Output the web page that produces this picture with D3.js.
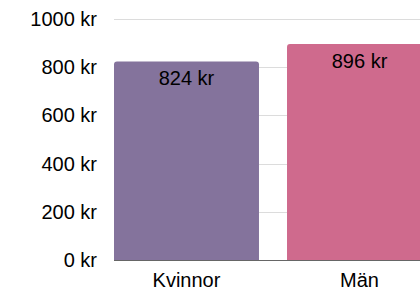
<!DOCTYPE html>
<html>
<head>
<meta charset="utf-8">
<script src="https://cdn.jsdelivr.net/npm/d3@7"></script>
<style>
  body { margin: 0; background: #fff; }
  text { font-family: "Liberation Sans", Arial, sans-serif; }
</style>
</head>
<body>
<svg id="chart"></svg>
<script>
var width = 420;
var height = 288;

// data
var categories = ["Kvinnor", "Män"];
var values = [824, 896];
var barColors = ["#84739c", "#cf6a8d"];
var yTicks = [0, 200, 400, 600, 800, 1000];

var svg = d3.select("#chart")
    .attr("width", width)
    .attr("height", height);

var x = d3.scaleBand()
    .domain(categories)
    .range([114, 432])
    .paddingInner(0.162)
    .paddingOuter(0);

var y = d3.scaleLinear()
    .domain([0, 1000])
    .range([260, 19]);

// grid lines
svg.selectAll(".grid")
    .data(yTicks.filter(function (d) { return d > 0; }))
    .enter().append("line")
    .attr("class", "grid")
    .attr("x1", 114)
    .attr("x2", width)
    .attr("y1", function (d) { return Math.round(y(d)) + 0.5; })
    .attr("y2", function (d) { return Math.round(y(d)) + 0.5; })
    .attr("stroke", "#dcdcdc")
    .attr("stroke-width", 1);

// base line
svg.append("line")
    .attr("x1", 114)
    .attr("x2", width)
    .attr("y1", Math.round(y(0)) + 0.5)
    .attr("y2", Math.round(y(0)) + 0.5)
    .attr("stroke", "#666")
    .attr("stroke-width", 1);

// y labels
svg.selectAll(".ylab")
    .data(yTicks)
    .enter().append("text")
    .attr("class", "ylab")
    .attr("x", 97)
    .attr("y", function (d) { return y(d); })
    .attr("dy", "0.35em")
    .attr("text-anchor", "end")
    .attr("font-size", "20px")
    .attr("fill", "#000")
    .text(function (d) { return d + " kr"; });

// bars with rounded top corners
var r = 3;
svg.selectAll(".bar")
    .data(values)
    .enter().append("path")
    .attr("class", "bar")
    .attr("fill", function (d, i) { return barColors[i]; })
    .attr("d", function (d, i) {
        var x0 = x(categories[i]), x1 = x0 + x.bandwidth();
        var y0 = y(d), y1 = y(0);
        return "M" + x0 + "," + y1 +
            "V" + (y0 + r) +
            "Q" + x0 + "," + y0 + " " + (x0 + r) + "," + y0 +
            "H" + (x1 - r) +
            "Q" + x1 + "," + y0 + " " + x1 + "," + (y0 + r) +
            "V" + y1 + "Z";
    });

// value labels
svg.selectAll(".vlab")
    .data(values)
    .enter().append("text")
    .attr("class", "vlab")
    .attr("x", function (d, i) { return x(categories[i]) + x.bandwidth() / 2; })
    .attr("y", function (d) { return y(d) + 16.5; })
    .attr("dy", "0.35em")
    .attr("text-anchor", "middle")
    .attr("font-size", "20px")
    .attr("fill", "#000")
    .text(function (d) { return d + " kr"; });

// x labels
svg.selectAll(".xlab")
    .data(categories)
    .enter().append("text")
    .attr("class", "xlab")
    .attr("x", function (d) { return x(d) + x.bandwidth() / 2; })
    .attr("y", 279.5)
    .attr("dy", "0.35em")
    .attr("text-anchor", "middle")
    .attr("font-size", "20px")
    .attr("fill", "#000")
    .text(function (d) { return d; });
</script>
</body>
</html>
